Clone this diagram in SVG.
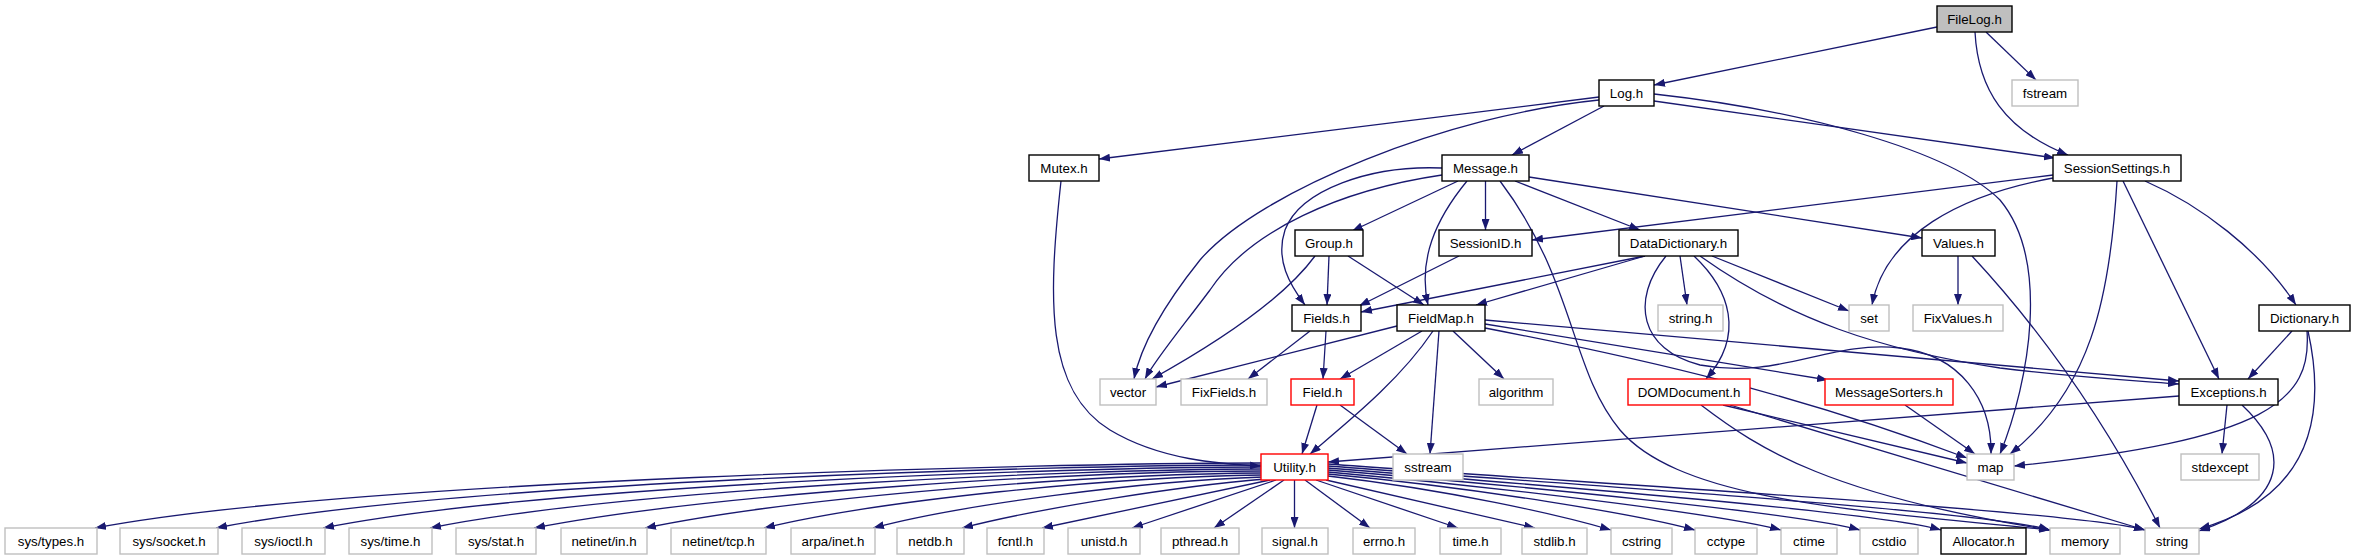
<svg xmlns="http://www.w3.org/2000/svg" width="2355" height="560" viewBox="0 0 2355 560">
<style>
.n rect{fill:#fff;stroke:#000;stroke-width:1.4}
.n.g rect{stroke:#bfbfbf}
.n.r rect{stroke:#ff0000}
.n.root rect{fill:#bfbfbf}
.n text{font-family:"Liberation Sans",Arial,sans-serif;font-size:13.3px;fill:#000;text-anchor:middle}
#edges path{fill:none;stroke:#191970;stroke-width:1.3;marker-end:url(#arr)}
</style>
<defs>
<marker id="arr" markerUnits="userSpaceOnUse" viewBox="0 0 11 8" markerWidth="11" markerHeight="8" refX="11" refY="4" orient="auto">
<path d="M0,0 L11,4 L0,8 z" fill="#191970"/>
</marker>
</defs>
<rect width="2355" height="560" fill="#fff"/>
<g id="edges">
<path d="M1937,27 L1654,85"/>
<path d="M1986,32 L2036,80"/>
<path d="M1975,32 C1978,90 2005,130 2068,155"/>
<path d="M1599,97 L1099,159"/>
<path d="M1604,106 L1512,155"/>
<path d="M1599,100 C1450,115 1260,190 1200,260 C1160,310 1140,350 1134,379"/>
<path d="M1654,101 L2055,158"/>
<path d="M1654,94 C1800,110 1950,150 2000,200 C2050,260 2030,380 2000,454"/>
<path d="M1458,181 L1352,231"/>
<path d="M1442,168 C1370,165 1300,190 1285,230 C1275,260 1290,285 1305,305"/>
<path d="M1467,181 C1435,220 1418,260 1428,305"/>
<path d="M1485.5,181 L1485.5,230"/>
<path d="M1515,181 L1640,230"/>
<path d="M1529,177 L1922,238"/>
<path d="M1442,175 C1340,190 1250,230 1210,290 C1180,330 1155,360 1145,379"/>
<path d="M1500,181 C1575,280 1570,370 1620,430 C1680,500 1850,510 2050,530"/>
<path d="M1329,256 L1327,305"/>
<path d="M1348,256 L1424,305"/>
<path d="M1315,256 C1290,290 1240,330 1152,379"/>
<path d="M1459,256 L1359,306"/>
<path d="M1645,256 L1361,312"/>
<path d="M1645,256 L1476,305"/>
<path d="M1680,256 L1687,305"/>
<path d="M1694,256 C1730,290 1745,335 1706,379"/>
<path d="M1712,256 L1849,311"/>
<path d="M1700,256 C1790,320 1880,350 2000,368 C2080,378 2140,381 2179,384"/>
<path d="M1666,256 C1630,300 1640,350 1700,365 C1780,380 1830,340 1900,348 C1960,355 1992,400 1991,454"/>
<path d="M1958,256 L1958,305"/>
<path d="M1972,256 C2050,340 2110,430 2160,528"/>
<path d="M2053,175 L1532,240"/>
<path d="M2053,178 C1960,195 1885,235 1872,305"/>
<path d="M2117,181 C2110,300 2090,390 2010,454"/>
<path d="M2123,181 L2219,379"/>
<path d="M2145,181 C2200,205 2260,250 2296,305"/>
<path d="M1061,181 C1048,300 1045,390 1110,430 C1160,460 1220,464 1261,466"/>
<path d="M1310,331 L1248,379"/>
<path d="M1326,331 L1323,379"/>
<path d="M1397,326 L1156,387"/>
<path d="M1422,331 L1340,379"/>
<path d="M1433,331 C1400,380 1350,420 1310,454"/>
<path d="M1439,331 L1430,454"/>
<path d="M1453,331 L1504,379"/>
<path d="M1485,320 L2179,381"/>
<path d="M1485,324 L1828,380"/>
<path d="M1485,328 C1650,360 1800,395 1967,458"/>
<path d="M1317,405 L1302,454"/>
<path d="M1340,405 L1407,454"/>
<path d="M2179,396 L1328,462"/>
<path d="M2227,405 L2222,454"/>
<path d="M2242,405 C2290,450 2290,500 2199,531"/>
<path d="M2292,331 L2248,379"/>
<path d="M2307,331 C2312,400 2270,440 2014,466"/>
<path d="M2308,331 C2330,430 2300,500 2199,529"/>
<path d="M1723,405 L1967,463"/>
<path d="M1730,405 L2145,530"/>
<path d="M1701,405 C1760,450 1830,495 2050,530"/>
<path d="M1905,405 L1975,454"/>
<path d="M1261,463 C1050,463 350,480 95,528"/>
<path d="M1261,465 C1050,465 450,482 216,528"/>
<path d="M1261,467 C1070,467 540,485 323,528"/>
<path d="M1261,469 C1080,469 630,488 430,528"/>
<path d="M1261,471 C1090,471 720,492 534,528"/>
<path d="M1261,473 C1100,474 800,496 645,528"/>
<path d="M1262,475 C1110,477 880,500 764,528"/>
<path d="M1263,477 C1140,481 960,505 873,528"/>
<path d="M1265,479 C1180,486 1040,508 962,528"/>
<path d="M1270,480 L1042,528"/>
<path d="M1276,480 L1132,528"/>
<path d="M1284,480 L1214,528"/>
<path d="M1294.5,480 L1294.5,528"/>
<path d="M1305,480 L1370,528"/>
<path d="M1316,480 L1458,528"/>
<path d="M1326,480 L1535,528"/>
<path d="M1328,476 C1450,490 1560,515 1611,530"/>
<path d="M1328,474 C1480,488 1640,515 1695,530"/>
<path d="M1328,472 C1500,487 1720,514 1781,530"/>
<path d="M1328,470 C1520,486 1800,513 1860,530"/>
<path d="M1328,468 C1540,485 1880,512 1941,530"/>
<path d="M1328,466 C1560,484 1980,510 2050,530"/>
<path d="M1328,464 C1580,483 2070,510 2145,530"/>
</g>
<g id="FileLog_h" class="n root"><rect x="1937" y="6" width="75" height="26"/><text x="1974.5" y="23.5">FileLog.h</text></g>
<g id="fstream" class="n g"><rect x="2012" y="80" width="66" height="26"/><text x="2045" y="97.5">fstream</text></g>
<g id="Log_h" class="n"><rect x="1599" y="80" width="55" height="26"/><text x="1626.5" y="97.5">Log.h</text></g>
<g id="SessionSettings_h" class="n"><rect x="2053" y="155" width="128" height="26"/><text x="2117" y="172.5">SessionSettings.h</text></g>
<g id="Mutex_h" class="n"><rect x="1029" y="155" width="70" height="26"/><text x="1064" y="172.5">Mutex.h</text></g>
<g id="Message_h" class="n"><rect x="1442" y="155" width="87" height="26"/><text x="1485.5" y="172.5">Message.h</text></g>
<g id="Group_h" class="n"><rect x="1295" y="230" width="68" height="26"/><text x="1329" y="247.5">Group.h</text></g>
<g id="SessionID_h" class="n"><rect x="1439" y="230" width="93" height="26"/><text x="1485.5" y="247.5">SessionID.h</text></g>
<g id="DataDictionary_h" class="n"><rect x="1619" y="230" width="119" height="26"/><text x="1678.5" y="247.5">DataDictionary.h</text></g>
<g id="Values_h" class="n"><rect x="1922" y="230" width="73" height="26"/><text x="1958.5" y="247.5">Values.h</text></g>
<g id="Fields_h" class="n"><rect x="1292" y="305" width="69" height="26"/><text x="1326.5" y="322.5">Fields.h</text></g>
<g id="FieldMap_h" class="n"><rect x="1397" y="305" width="88" height="26"/><text x="1441" y="322.5">FieldMap.h</text></g>
<g id="string_h" class="n g"><rect x="1658" y="305" width="65" height="26"/><text x="1690.5" y="322.5">string.h</text></g>
<g id="set" class="n g"><rect x="1849" y="305" width="40" height="26"/><text x="1869" y="322.5">set</text></g>
<g id="FixValues_h" class="n g"><rect x="1913" y="305" width="90" height="26"/><text x="1958" y="322.5">FixValues.h</text></g>
<g id="Dictionary_h" class="n"><rect x="2259" y="305" width="91" height="26"/><text x="2304.5" y="322.5">Dictionary.h</text></g>
<g id="vector" class="n g"><rect x="1100" y="379" width="56" height="26"/><text x="1128" y="396.5">vector</text></g>
<g id="FixFields_h" class="n g"><rect x="1181" y="379" width="86" height="26"/><text x="1224" y="396.5">FixFields.h</text></g>
<g id="Field_h" class="n r"><rect x="1291" y="379" width="63" height="26"/><text x="1322.5" y="396.5">Field.h</text></g>
<g id="algorithm" class="n g"><rect x="1479" y="379" width="74" height="26"/><text x="1516" y="396.5">algorithm</text></g>
<g id="DOMDocument_h" class="n r"><rect x="1628" y="379" width="122" height="26"/><text x="1689" y="396.5">DOMDocument.h</text></g>
<g id="MessageSorters_h" class="n r"><rect x="1825" y="379" width="128" height="26"/><text x="1889" y="396.5">MessageSorters.h</text></g>
<g id="Exceptions_h" class="n"><rect x="2179" y="379" width="99" height="26"/><text x="2228.5" y="396.5">Exceptions.h</text></g>
<g id="Utility_h" class="n r"><rect x="1261" y="454" width="67" height="26"/><text x="1294.5" y="471.5">Utility.h</text></g>
<g id="sstream" class="n g"><rect x="1393" y="454" width="70" height="26"/><text x="1428" y="471.5">sstream</text></g>
<g id="map" class="n g"><rect x="1967" y="454" width="47" height="26"/><text x="1990.5" y="471.5">map</text></g>
<g id="stdexcept" class="n g"><rect x="2181" y="454" width="78" height="26"/><text x="2220" y="471.5">stdexcept</text></g>
<g id="sys_types_h" class="n g"><rect x="5" y="528" width="92" height="26"/><text x="51" y="545.5">sys/types.h</text></g>
<g id="sys_socket_h" class="n g"><rect x="120" y="528" width="98" height="26"/><text x="169" y="545.5">sys/socket.h</text></g>
<g id="sys_ioctl_h" class="n g"><rect x="242" y="528" width="83" height="26"/><text x="283.5" y="545.5">sys/ioctl.h</text></g>
<g id="sys_time_h" class="n g"><rect x="349" y="528" width="83" height="26"/><text x="390.5" y="545.5">sys/time.h</text></g>
<g id="sys_stat_h" class="n g"><rect x="456" y="528" width="80" height="26"/><text x="496" y="545.5">sys/stat.h</text></g>
<g id="netinet_in_h" class="n g"><rect x="561" y="528" width="86" height="26"/><text x="604" y="545.5">netinet/in.h</text></g>
<g id="netinet_tcp_h" class="n g"><rect x="671" y="528" width="95" height="26"/><text x="718.5" y="545.5">netinet/tcp.h</text></g>
<g id="arpa_inet_h" class="n g"><rect x="791" y="528" width="84" height="26"/><text x="833" y="545.5">arpa/inet.h</text></g>
<g id="netdb_h" class="n g"><rect x="897" y="528" width="67" height="26"/><text x="930.5" y="545.5">netdb.h</text></g>
<g id="fcntl_h" class="n g"><rect x="987" y="528" width="57" height="26"/><text x="1015.5" y="545.5">fcntl.h</text></g>
<g id="unistd_h" class="n g"><rect x="1068" y="528" width="72" height="26"/><text x="1104" y="545.5">unistd.h</text></g>
<g id="pthread_h" class="n g"><rect x="1161" y="528" width="78" height="26"/><text x="1200" y="545.5">pthread.h</text></g>
<g id="signal_h" class="n g"><rect x="1262" y="528" width="66" height="26"/><text x="1295" y="545.5">signal.h</text></g>
<g id="errno_h" class="n g"><rect x="1353" y="528" width="62" height="26"/><text x="1384" y="545.5">errno.h</text></g>
<g id="time_h" class="n g"><rect x="1440" y="528" width="61" height="26"/><text x="1470.5" y="545.5">time.h</text></g>
<g id="stdlib_h" class="n g"><rect x="1522" y="528" width="65" height="26"/><text x="1554.5" y="545.5">stdlib.h</text></g>
<g id="cstring" class="n g"><rect x="1611" y="528" width="61" height="26"/><text x="1641.5" y="545.5">cstring</text></g>
<g id="cctype" class="n g"><rect x="1695" y="528" width="62" height="26"/><text x="1726" y="545.5">cctype</text></g>
<g id="ctime" class="n g"><rect x="1781" y="528" width="56" height="26"/><text x="1809" y="545.5">ctime</text></g>
<g id="cstdio" class="n g"><rect x="1860" y="528" width="58" height="26"/><text x="1889" y="545.5">cstdio</text></g>
<g id="Allocator_h" class="n"><rect x="1941" y="528" width="85" height="26"/><text x="1983.5" y="545.5">Allocator.h</text></g>
<g id="memory" class="n g"><rect x="2050" y="528" width="70" height="26"/><text x="2085" y="545.5">memory</text></g>
<g id="string" class="n g"><rect x="2145" y="528" width="54" height="26"/><text x="2172" y="545.5">string</text></g>
</svg>
